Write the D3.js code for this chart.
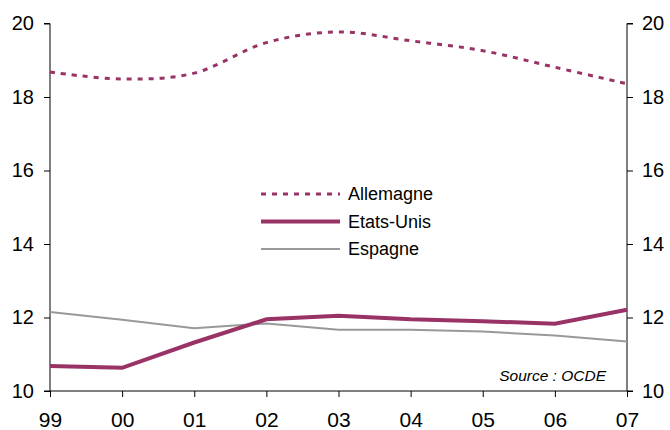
<!DOCTYPE html>
<html>
<head>
<meta charset="utf-8">
<script src="https://cdn.jsdelivr.net/npm/d3@7"></script>
<style>
  body { margin: 0; background: #fff; }
  svg { font-family: "Liberation Sans", Arial, sans-serif; }
</style>
</head>
<body>
<div id="chart"></div>
<script>
// Data
const years = ["99", "00", "01", "02", "03", "04", "05", "06", "07"];
const allemagne = [18.68, 18.49, 18.65, 19.48, 19.77, 19.53, 19.26, 18.81, 18.36];
const etatsUnis = [10.68, 10.63, 11.32, 11.95, 12.05, 11.95, 11.9, 11.83, 12.21];
const espagne = [12.15, 11.94, 11.71, 11.84, 11.67, 11.67, 11.62, 11.51, 11.35];
const yTicks = [10, 12, 14, 16, 18, 20];

const W = 670, H = 430;
const margin = {top: 23.5, right: 43, bottom: 39, left: 50};
const width = W - margin.left - margin.right;
const height = H - margin.top - margin.bottom;

const svg = d3.select("#chart")
  .append("svg")
  .attr("width", W)
  .attr("height", H)
  .append("g")
  .attr("transform", `translate(${margin.left},${margin.top})`);

const x = d3.scalePoint().domain(years).range([0, width]);
const y = d3.scaleLinear().domain([10, 20]).range([height, 0]);

// Axes
const left = svg.append("g")
  .call(d3.axisLeft(y).tickValues(yTicks).tickSize(6).tickPadding(10).tickFormat(d3.format("d")));
const right = svg.append("g")
  .attr("transform", `translate(${width},0)`)
  .call(d3.axisRight(y).tickValues(yTicks).tickSize(6).tickPadding(9).tickFormat(d3.format("d")));
const bottom = svg.append("g")
  .attr("transform", `translate(0,${height})`)
  .call(d3.axisBottom(x).tickSize(6).tickPadding(15.5));

[left, right, bottom].forEach(g => {
  g.select(".domain").attr("stroke", "#000").attr("stroke-width", 1);
  g.selectAll(".tick line").attr("stroke", "#000");
  g.selectAll(".tick text").attr("fill", "#000").style("font-size", "20px");
});
bottom.selectAll(".tick text").style("font-size", "21px");
left.select(".domain").attr("d", `M-6,0H0V${height}H-6`);
right.select(".domain").attr("d", `M6,0H0V${height}H6`);
bottom.select(".domain").attr("d", `M0,0H${width}`);

// Lines
const smooth = d3.line()
  .x((d, i) => x(years[i]))
  .y(d => y(d))
  .curve(d3.curveCatmullRom.alpha(0));
const straight = d3.line()
  .x((d, i) => x(years[i]))
  .y(d => y(d));

const series = [
  {name: "Allemagne", data: allemagne, color: "#993366", width: 3, dash: "5,6", gen: smooth},
  {name: "Etats-Unis", data: etatsUnis, color: "#993366", width: 4, dash: null, gen: straight},
  {name: "Espagne", data: espagne, color: "#999999", width: 2, dash: null, gen: straight}
];

// draw Espagne first, then Etats-Unis on top
[series[2], series[1], series[0]].forEach(s => {
  svg.append("path")
    .datum(s.data)
    .attr("fill", "none")
    .attr("stroke", s.color)
    .attr("stroke-width", s.width)
    .attr("stroke-dasharray", s.dash)
    .attr("d", s.gen);
});

// Legend
const legend = svg.append("g").attr("transform", "translate(211,170.5)");
series.forEach((s, i) => {
  const row = legend.append("g").attr("transform", `translate(0,${i * 27.5})`);
  row.append("line")
    .attr("x1", 0).attr("x2", 79)
    .attr("stroke", s.color)
    .attr("stroke-width", s.width)
    .attr("stroke-dasharray", s.dash);
  row.append("text")
    .attr("x", 87)
    .attr("dy", "0.35em")
    .style("font-size", "18px")
    .text(s.name);
});

// Source
svg.append("text")
  .attr("x", width - 21)
  .attr("y", height - 10)
  .attr("text-anchor", "end")
  .style("font-size", "15.5px")
  .style("font-style", "italic")
  .text("Source : OCDE");
</script>
</body>
</html>
